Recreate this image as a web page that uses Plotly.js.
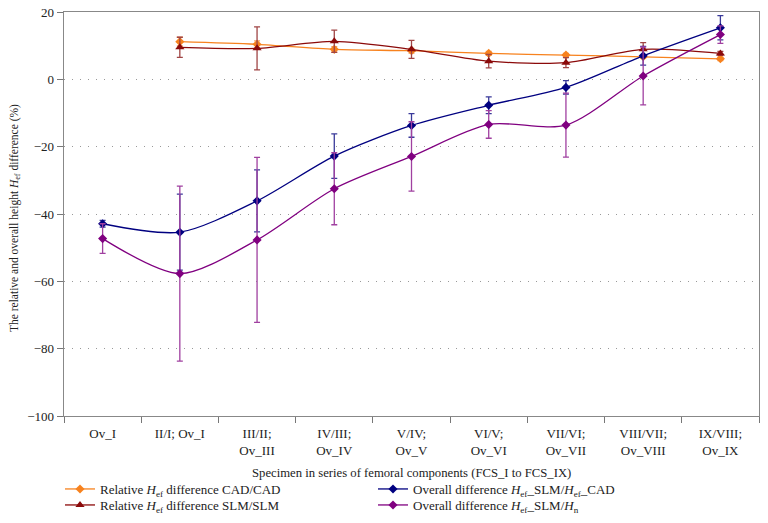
<!DOCTYPE html>
<html>
<head>
<meta charset="utf-8">
<script src="https://cdn.plot.ly/plotly-3.0.1.min.js"></script>
<style>html,body{margin:0;padding:0;background:#fff;}#chart{width:768px;height:523px;}</style>
</head>
<body>
<div id="chart"></div>
<script>
const categories = ["Ov_I", "II/I; Ov_I", "III/II;<br>Ov_III", "IV/III;<br>Ov_IV", "V/IV;<br>Ov_V", "VI/V;<br>Ov_VI", "VII/VI;<br>Ov_VII", "VIII/VII;<br>Ov_VIII", "IX/VIII;<br>Ov_IX"];

const relCad = [null, 11.2, 10.4, 8.9, 8.5, 7.7, 7.2, 6.7, 6.1];
const relCadErr = [null, 1.3, 1.0, 0.8, 0.7, 0.6, 0.5, 0.5, 0.5];

const relSlm = [null, 9.5, 9.2, 11.3, 8.9, 5.4, 4.95, 8.9, 7.7];
const relSlmErr = [null, 3.0, 6.4, 3.3, 2.7, 2.0, 1.5, 2.0, 0.6];

const ovCad = [-42.9, -45.4, -36.1, -22.8, -13.7, -7.7, -2.4, 7.0, 15.3];
const ovCadErr = [1.0, 11.3, 9.2, 6.6, 3.5, 2.5, 2.0, 2.8, 3.6];

const ovHn = [-47.3, -57.7, -47.7, -32.5, -22.9, -13.4, -13.6, 1.0, 13.3];
const ovHnErr = [4.4, 26.0, 24.5, 10.7, 10.3, 4.1, 9.5, 8.6, 2.6];

const yTicks = [-100, -80, -60, -40, -20, 0, 20];

const xTitle = "Specimen in series of femoral components (FCS_I to FCS_IX)";
const yTitle = "The relative and overall height <i>H</i><sub>ef</sub> difference (%)";

const serif = "Liberation Serif, Times New Roman, serif";

function mk(name, y, err, color, errColor, symbol, msize, legendId) {
  return {
    type: "scatter", mode: "lines+markers", name: name, legend: legendId,
    x: categories, y: y,
    line: {color: color, width: 1.3, shape: "spline", smoothing: 0.8},
    marker: {color: color, symbol: symbol, size: msize},
    error_y: {type: "data", array: err, visible: true, color: errColor, thickness: 1.3, width: 3},
    connectgaps: false
  };
}

const traces = [
  mk("Relative <i>H</i><sub>ef</sub> difference CAD/CAD", relCad, relCadErr, "#F7821E", "#F5A060", "diamond", 7, "legend"),
  mk("Relative <i>H</i><sub>ef</sub> difference SLM/SLM", relSlm, relSlmErr, "#8B0A0A", "#A04545", "triangle-up", 8, "legend2"),
  mk("Overall difference <i>H</i><sub>ef</sub>_SLM/<i>H</i><sub>ef</sub>_CAD", ovCad, ovCadErr, "#000080", "#3A3A9A", "diamond", 7, "legend3"),
  mk("Overall difference <i>H</i><sub>ef</sub>_SLM/<i>H</i><sub>n</sub>", ovHn, ovHnErr, "#800080", "#A040A0", "diamond", 7, "legend4")
];

function leg(xpx, ypx) {
  return {
    xref: "container", yref: "container",
    x: xpx / 768, xanchor: "left", y: 1 - ypx / 523, yanchor: "middle",
    font: {family: serif, size: 13, color: "#222"},
    itemwidth: 30, bgcolor: "rgba(0,0,0,0)", borderwidth: 0
  };
}

const layout = {
  width: 768, height: 523,
  margin: {l: 64, r: 9, t: 12, b: 107, autoexpand: false},
  paper_bgcolor: "#fff", plot_bgcolor: "#fff",
  font: {family: serif, size: 13, color: "#222"},
  showlegend: true,
  legend: leg(60, 489),
  legend2: leg(60, 505),
  legend3: leg(373, 489),
  legend4: leg(373, 505),
  xaxis: {
    type: "category", tickson: "boundaries", ticks: "outside", ticklen: 6,
    tickcolor: "#777", showline: true, linecolor: "#888", linewidth: 1.3, mirror: true,
    showgrid: false, range: [-0.5, 8.5], automargin: false, ticklabelstandoff: 5,
    tickfont: {family: serif, size: 13, color: "#222"}
  },
  yaxis: {
    range: [-100, 20], tickvals: yTicks, ticks: "outside", ticklen: 6, tickcolor: "#777",
    showline: true, linecolor: "#888", linewidth: 1.3, mirror: true, automargin: false,
    showgrid: true, gridcolor: "#999", griddash: "1px,7px", gridwidth: 1, zeroline: false,
    tickfont: {family: serif, size: 13, color: "#222"}
  },
  annotations: [
    {text: xTitle, xref: "paper", x: 0.5, xanchor: "center", yref: "paper", y: -0.14, yanchor: "middle",
     showarrow: false, font: {family: serif, size: 12.7, color: "#222"}},
    {text: yTitle, xref: "paper", x: -0.0705, xanchor: "center", yref: "paper", y: 0.49, yanchor: "middle",
     textangle: -90, showarrow: false, font: {family: serif, size: 11.5, color: "#222"}}
  ]
};

Plotly.newPlot("chart", traces, layout, {displayModeBar: false, staticPlot: true});
</script>
</body>
</html>
